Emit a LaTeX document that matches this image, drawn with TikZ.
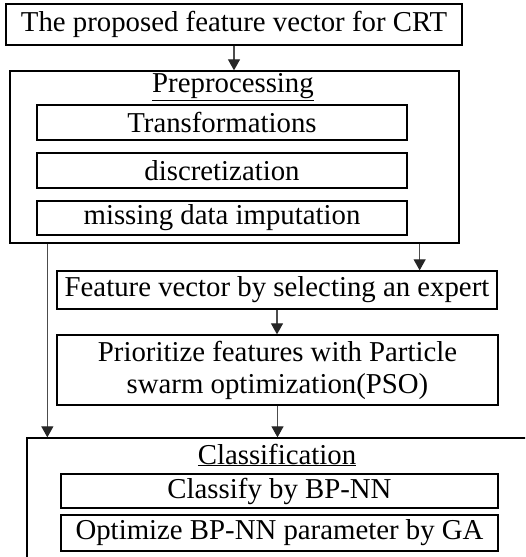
\documentclass[tikz,border=0pt]{standalone}
\usepackage{fontspec}
\setmainfont{Liberation Serif}
\usetikzlibrary{arrows.meta}
\tikzset{
  box/.style={draw=black, line width=1.3pt, inner sep=0pt, align=center, font=\fontsize{28.8}{32}\selectfont},
  title/.style={inner sep=0pt, font=\fontsize{28.8}{32}\selectfont},
  arr/.style={draw=black!70, line width=1.1pt, -{Triangle[length=11pt,width=12pt,fill=black!85,color=black!85]}},
  conn/.style={draw=black!70, line width=1.1pt}
}
\begin{document}
\begin{tikzpicture}[x=1pt,y=-1pt]
\useasboundingbox (0,0) rectangle (525,557);
\clip (0,0) rectangle (525,557);
\node[box, minimum width=456pt, minimum height=41pt] (top) at (234,24.5) {The proposed feature vector for CRT};
\node[box, minimum width=449pt, minimum height=172pt] (pre) at (234.5,157) {};
\node[title] (pret) at (233,87) {\underline{Preprocessing}};
\node[box, minimum width=370pt, minimum height=35pt] (tr) at (222,122.5) {Transformations};
\node[box, minimum width=370pt, minimum height=35pt] (di) at (222,170.5) {discretization};
\node[box, minimum width=370pt, minimum height=34pt] (mi) at (222,218) {missing data imputation};
\node[box, minimum width=440pt, minimum height=38pt] (fv) at (277,290) {Feature vector by selecting an expert};
\node[box, minimum width=441pt, minimum height=70pt] (pso) at (277.5,370) {Prioritize features with Particle\\swarm optimization(PSO)};
\node[box, minimum width=533pt, minimum height=162pt] (cls) at (293.5,519) {};
\node[title] (clst) at (277,455) {\underline{Classification}};
\node[box, minimum width=437pt, minimum height=34pt] (c1) at (279.5,491) {Classify by BP-NN};
\node[box, minimum width=437pt, minimum height=36pt] (c2) at (279.5,533) {Optimize BP-NN parameter by GA};
\draw[arr] (top.south) -- (top.south |- pre.north);
\draw[arr] ([xshift=-40pt]pre.south east) -- ([xshift=-40pt]pre.south east |- fv.north);
\draw[arr] ([xshift=38pt]pre.south west) -- ([xshift=38pt]pre.south west |- cls.north);
\draw[arr] (fv.south) -- (fv.south |- pso.north);
\draw[arr] (pso.south) -- (pso.south |- cls.north);
\end{tikzpicture}
\end{document}
